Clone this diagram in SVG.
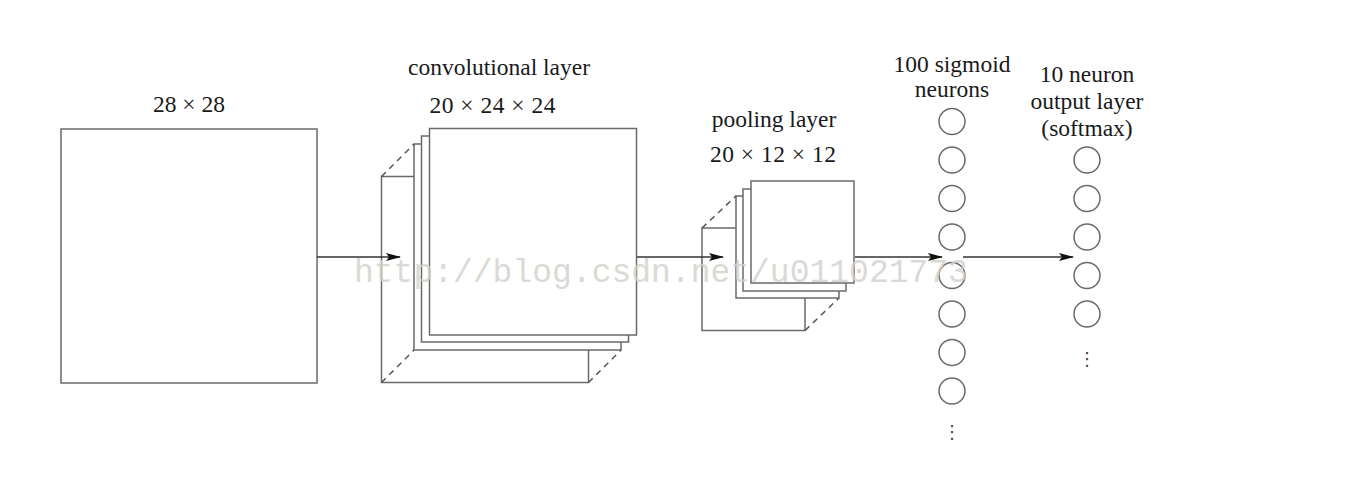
<svg xmlns="http://www.w3.org/2000/svg" width="1364" height="478" viewBox="0 0 1364 478">
<defs>
<style>
.box{fill:#fff;stroke:#6a6a6a;stroke-width:1.5}
.dash{fill:none;stroke:#555;stroke-width:1.5;stroke-dasharray:6 5}
.neuron{fill:#fff;stroke:#6a6a6a;stroke-width:1.5}
.edge{fill:none;stroke:#333;stroke-width:1.5}
.lbl{font-family:"Liberation Serif","Times New Roman",serif;font-size:23.5px;fill:#1a1a1a;text-anchor:middle}
.dots{font-family:"DejaVu Sans",sans-serif;font-size:18px;fill:#444;text-anchor:middle}
.wm{font-family:"Liberation Mono","Courier New",monospace;font-size:33px;fill:#d2d2ca;opacity:0.8}
</style>
<marker id="arr" markerWidth="15" markerHeight="10" refX="14" refY="5" orient="auto" markerUnits="userSpaceOnUse">
<path d="M0,1 L15,5 L0,9 L3,5 Z" fill="#111"/>
</marker>
</defs>
<rect x="0" y="0" width="1364" height="478" fill="#fff"/>

<g id="input">
<rect class="box" x="61" y="129" width="256" height="254"/>
<text class="lbl" x="189" y="112">28 × 28</text>
</g>

<g id="conv">
<rect class="box" x="381.5" y="176.5" width="207" height="206"/>
<rect class="box" x="414" y="144" width="207" height="206"/>
<rect class="box" x="421.5" y="136" width="207" height="206"/>
<rect class="box" x="429.5" y="128.5" width="207" height="206.5"/>
<line class="dash" x1="381.5" y1="176.5" x2="414" y2="144"/>
<line class="dash" x1="381.5" y1="382.5" x2="414" y2="350"/>
<line class="dash" x1="588.5" y1="382.5" x2="621" y2="350"/>
<text class="lbl" x="499" y="75">convolutional layer</text>
<text class="lbl" x="492.5" y="113" textLength="126">20 × 24 × 24</text>
</g>

<g id="pool">
<rect class="box" x="702" y="228" width="103" height="102.5"/>
<rect class="box" x="736" y="196" width="103" height="102"/>
<rect class="box" x="743" y="189" width="103" height="102"/>
<rect class="box" x="751" y="181" width="103" height="102"/>
<line class="dash" x1="702" y1="228" x2="736" y2="196"/>
<line class="dash" x1="805" y1="330.5" x2="839" y2="298"/>
<text class="lbl" x="774" y="127">pooling layer</text>
<text class="lbl" x="773" y="162" textLength="126">20 × 12 × 12</text>
</g>

<g id="hidden">
<text class="lbl" x="952" y="72">100 sigmoid</text>
<text class="lbl" x="952" y="97">neurons</text>
<g id="h1"><circle class="neuron" cx="952" cy="121.5" r="13"/></g>
<g id="h2"><circle class="neuron" cx="952" cy="160" r="13"/></g>
<g id="h3"><circle class="neuron" cx="952" cy="198.5" r="13"/></g>
<g id="h4"><circle class="neuron" cx="952" cy="237" r="13"/></g>
<g id="h5"><circle class="neuron" cx="952" cy="275.5" r="13"/></g>
<g id="h6"><circle class="neuron" cx="952" cy="314" r="13"/></g>
<g id="h7"><circle class="neuron" cx="952" cy="352.5" r="13"/></g>
<g id="h8"><circle class="neuron" cx="952" cy="391" r="13"/></g>
<text class="dots" x="952" y="438">⋮</text>
</g>

<g id="output">
<text class="lbl" x="1087" y="82">10 neuron</text>
<text class="lbl" x="1087" y="109">output layer</text>
<text class="lbl" x="1087" y="136">(softmax)</text>
<g id="o1"><circle class="neuron" cx="1087" cy="160" r="13"/></g>
<g id="o2"><circle class="neuron" cx="1087" cy="198.5" r="13"/></g>
<g id="o3"><circle class="neuron" cx="1087" cy="237" r="13"/></g>
<g id="o4"><circle class="neuron" cx="1087" cy="275.5" r="13"/></g>
<g id="o5"><circle class="neuron" cx="1087" cy="314" r="13"/></g>
<text class="dots" x="1087" y="365">⋮</text>
</g>

<g id="connectors">
<line class="edge" x1="317" y1="257" x2="400" y2="257" marker-end="url(#arr)"/>
<line class="edge" x1="637" y1="257" x2="723" y2="257" marker-end="url(#arr)"/>
<line class="edge" x1="855" y1="257" x2="942" y2="257" marker-end="url(#arr)"/>
<line class="edge" x1="963" y1="257" x2="1073" y2="257" marker-end="url(#arr)"/>
</g>

<text class="wm" x="354" y="282">http://blog.csdn.net/u011021773</text>
</svg>
